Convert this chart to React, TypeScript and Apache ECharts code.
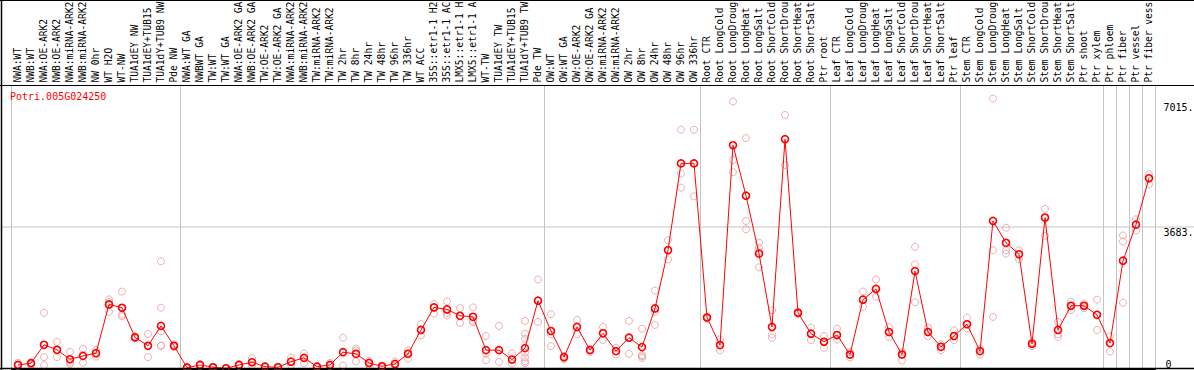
import React, { useEffect, useRef } from "react";
import * as echarts from "echarts";

const title = "Potri.005G024250";

const categories = [
  "NWA:WT", "NWB:WT", "NWA:OE-ARK2", "NWB:OE-ARK2", "NWA:miRNA-ARK2", "NWB:miRNA-ARK2", "NW 0hr", "WT H2O", "WT-NW", "TUA1dEY NW", "TUA1dEY+TUB15", "TUA1dY+TUB9 NW", "Pde NW",
  "NWA:WT GA", "NWBWT GA", "TW:WT", "TW:WT GA", "NWA:OE-ARK2 GA", "NWB:OE-ARK2 GA", "TW:OE-ARK2", "TW:OE-ARK2 GA", "NWA:miRNA-ARK2", "NWB:miRNA-ARK2", "TW:miRNA-ARK2", "TW:miRNA-ARK2",
  "TW 2hr", "TW 8hr", "TW 24hr", "TW 48hr", "TW 96hr", "TW 336hr", "WT ACC", "35S::etr1-1 H2", "35S::etr1-1 AC", "LMX5::etr1-1 H", "LMX5::etr1-1 A", "WT-TW", "TUA1dEY TW", "TUA1dEY+TUB15", "TUA1dY+TUB9 TW", "Pde TW",
  "OW:WT", "OW:WT GA", "OW:OE-ARK2", "OW:OE-ARK2 GA", "OW:miRNA-ARK2", "OW:miRNA-ARK2", "OW 2hr", "OW 8hr", "OW 24hr", "OW 48hr", "OW 96hr", "OW 336hr",
  "Root CTR", "Root LongCold", "Root LongDroug", "Root LongHeat", "Root LongSalt", "Root ShortCold", "Root ShortDrou", "Root ShortHeat", "Root ShortSalt", "Ptr root",
  "Leaf CTR", "Leaf LongCold", "Leaf LongDroug", "Leaf LongHeat", "Leaf LongSalt", "Leaf ShortCold", "Leaf ShortDrou", "Leaf ShortHeat", "Leaf ShortSalt", "Ptr leaf",
  "Stem CTR", "Stem LongCold", "Stem LongDroug", "Stem LongHeat", "Stem LongSalt", "Stem ShortCold", "Stem ShortDrou", "Stem ShortHeat", "Stem ShortSalt", "Ptr shoot", "Ptr xylem",
  "Ptr phloem", "Ptr fiber", "Ptr vessel", "Ptr fiber vess",
];

// index of the first category of each group (vertical separators)
const groupStarts = [0, 13, 41, 53, 63, 73, 84, 85, 86, 87];

const meanValues = [
  105, 150, 628, 497, 253, 340, 410, 1675, 1589, 820, 602, 1118, 602,
  34, 105, 45, 18, 105, 175, 60, 45, 190, 288, 61, 105, 436, 393, 157, 70, 131, 393, 1013, 1597, 1545, 1380, 1353, 489, 489, 244, 541, 1772,
  986, 306, 1091, 489, 925, 463, 812, 568, 1571, 3081, 5333, 5333,
  1335, 620, 5804, 4495, 2992, 1091, 5960, 1458, 916, 707,
  881, 375, 1798, 2077, 960, 375, 2539, 960, 576, 856,
  1160, 463, 3840, 3273, 2976, 655, 3927, 1013, 1641, 1641, 1406,
  672, 2809, 3744, 4948,
];

const repHigh = [
  160, 170, 1458, 699, 445, 524, 497, 1806, 2008, 850, 908, 2793, 640,
  60, 130, 60, 30, 130, 280, 80, 60, 296, 401, 80, 157, 812, 532, 218, 90, 201, 489, 1160, 1683, 1754, 1579, 1597, 856, 1117, 401, 1248, 2322,
  1422, 340, 1274, 520, 1091, 550, 1248, 1047, 2034, 3343, 6205, 6205,
  1360, 768, 6938, 5987, 3280, 1527, 6589, 1480, 1073, 856,
  1047, 440, 2008, 2322, 1091, 440, 3168, 1073, 640, 1003,
  1335, 520, 7015, 3665, 3081, 700, 4154, 1222, 1746, 1700, 1798,
  846, 3464, 3883, 5053,
];

const repLow = [
  80, 100, 96, 306, 131, 165, 322, 1484, 1369, 790, 306, 610, 570,
  20, 80, 30, 10, 80, 100, 45, 30, 100, 157, 45, 80, 87, 201, 100, 50, 90, 270, 872, 1440, 1388, 1196, 1249, 228, 183, 140, 150, 1222,
  593, 260, 899, 440, 751, 375, 393, 288, 1144, 2845, 4704, 4477,
  1310, 489, 5105, 3621, 2636, 812, 5288, 1430, 751, 550,
  760, 300, 1615, 1877, 830, 218, 1728, 850, 489, 751,
  1055, 375, 1353, 2992, 2845, 593, 3456, 830, 1527, 1580, 1013,
  453, 1720, 3595, 4791,
];

const repMid = [
  100, 150, 306, 490, 165, 330, 410, 1735, 1414, 820, 602, 977, 602,
  34, 105, 45, 18, 105, 175, 60, 45, 190, 288, 61, 105, 436, 480, 157, 70, 131, 393, 1013, 1597, 1450, 1380, 1210, 400, 489, 244, 916, 1772,
  899, 306, 1091, 489, 925, 463, 812, 358, 1484, 3081, 5071, 5333,
  1335, 620, 5419, 3840, 3050, 899, 5960, 1458, 916, 707,
  881, 375, 1798, 2077, 960, 375, 2715, 960, 576, 856,
  1160, 463, 3081, 3081, 2976, 655, 3927, 899, 1641, 1641, 1406,
  672, 3307, 3744, 4948,
];

// additional replicates: [category index, value]
const extraReps = [
  [11, 1589], [11, 600], [39, 785], [39, 420], [39, 300], [39, 200], [48, 330], [57, 3150],
];

const yMax = 7366;
const yMidTick = 3683;
const yTopLabel = 7015;

const FONT = "'DejaVu Sans Mono', monospace";
const PALE = "#e99a9a";
const GRIDGRAY = "#c4c4c4";

export default function App() {
  const ref = useRef<HTMLDivElement>(null);

  useEffect(() => {
    if (!ref.current) return;
    const chart = echarts.init(ref.current, null, { renderer: "svg" });
    const isGroupStart = (i: number) => groupStarts.includes(i);
    const repSeries = (data: any[]) => ({
      type: "scatter",
      data,
      symbol: "circle",
      symbolSize: 7,
      itemStyle: { color: "rgba(0,0,0,0)", borderColor: PALE, borderWidth: 1 },
      z: 2,
      silent: true,
    });
    const yAxisBase = {
      type: "value",
      min: 0,
      max: yMax,
      position: "right",
      axisLine: { show: false },
      axisTick: { show: false },
      splitLine: { show: false },
    };
    const yLabelBase = { align: "left", fontSize: 10, fontFamily: FONT, color: "#000" };
    chart.setOption({
      animation: false,
      backgroundColor: "#fff",
      title: {
        text: title,
        left: 10,
        top: 91,
        padding: 0,
        textStyle: { color: "#ff0000", fontSize: 10, fontWeight: "normal", fontFamily: FONT },
      },
      grid: { left: 11.5, right: 38.5, top: 85, bottom: 1, containLabel: false, outerBoundsMode: "none" },
      xAxis: {
        type: "category",
        position: "top",
        data: categories,
        boundaryGap: true,
        axisLine: { show: true, lineStyle: { color: "#000", width: 1 } },
        axisTick: {
          show: true,
          alignWithLabel: false,
          interval: isGroupStart,
          length: 85,
          lineStyle: { color: GRIDGRAY, width: 1 },
        },
        splitLine: { show: true, interval: isGroupStart, lineStyle: { color: GRIDGRAY, width: 1 } },
        axisLabel: { show: false },
      },
      yAxis: [
        {
          ...yAxisBase,
          axisLabel: {
            ...yLabelBase,
            customValues: [yMidTick],
            formatter: (v: number) => `${v}.`,
            verticalAlign: "top",
            margin: 8,
          },
        },
        {
          ...yAxisBase,
          axisLabel: {
            ...yLabelBase,
            customValues: [yTopLabel],
            formatter: (v: number) => `${v}.`,
            verticalAlign: "top",
            padding: [4, 0, 0, 0],
            margin: 8,
          },
        },
        {
          ...yAxisBase,
          axisLabel: {
            ...yLabelBase,
            customValues: [0],
            formatter: () => "0",
            verticalAlign: "bottom",
            margin: 10,
          },
        },
      ],
      series: [
        repSeries(repHigh),
        repSeries(repLow),
        repSeries(repMid),
        repSeries(extraReps),
        {
          type: "line",
          data: meanValues,
          symbol: "circle",
          symbolSize: 7,
          showAllSymbol: true,
          lineStyle: { color: "#ff0000", width: 1 },
          itemStyle: { color: "rgba(0,0,0,0)", borderColor: "#ff0000", borderWidth: 1.6 },
          z: 3,
          silent: true,
        },
      ],
    });
    const yMid = chart.convertToPixel({ yAxisIndex: 0 }, yMidTick) as number;
    const W = 1194;
    const H = 370;
    const labelBase = 82.5;
    const catLabels = categories.map((name, i) => {
      const x = chart.convertToPixel({ xAxisIndex: 0 }, i) as number;
      return {
        type: "text",
        x: x - 1,
        y: labelBase,
        rotation: Math.PI / 2,
        silent: true,
        z: 5,
        style: {
          text: name,
          fill: "#000",
          font: `9.6px ${FONT}`,
          align: "left",
          verticalAlign: "middle",
        },
      };
    });
    chart.setOption({
      graphic: [
        { type: "line", shape: { x1: 1, y1: yMid, x2: W, y2: yMid }, style: { stroke: GRIDGRAY, lineWidth: 1 }, z: 0, silent: true },
        ...catLabels,
        { type: "line", shape: { x1: 0, y1: 0.5, x2: W, y2: 0.5 }, style: { stroke: "#000", lineWidth: 1 }, z: 10, silent: true },
        { type: "line", shape: { x1: 0, y1: 85.5, x2: W, y2: 85.5 }, style: { stroke: "#000", lineWidth: 1 }, z: 10, silent: true },
        { type: "line", shape: { x1: 0, y1: H - 1.5, x2: W, y2: H - 1.5 }, style: { stroke: "#000", lineWidth: 1.5 }, z: 10, silent: true },
        { type: "line", shape: { x1: 1.5, y1: 0, x2: 1.5, y2: H }, style: { stroke: "#000", lineWidth: 1.5 }, z: 10, silent: true },
      ],
    });
    return () => chart.dispose();
  }, []);

  return (
    <div
      ref={ref}
      style={{ position: "absolute", left: 0, top: 0, width: 1194, height: 370, background: "#fff" }}
    />
  );
}
